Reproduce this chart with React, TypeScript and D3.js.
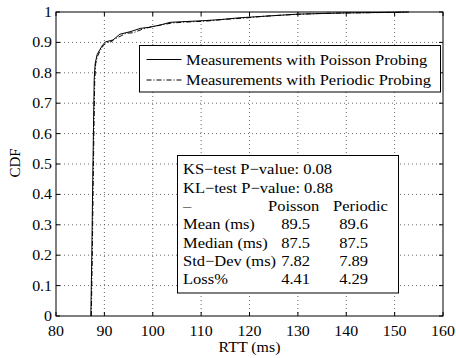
import React from "react";
import * as d3 from "d3";

const xTicks = [80, 90, 100, 110, 120, 130, 140, 150, 160];
const yTicks = [0, 0.1, 0.2, 0.3, 0.4, 0.5, 0.6, 0.7, 0.8, 0.9, 1];
const yTickLabels = ["0", "0.1", "0.2", "0.3", "0.4", "0.5", "0.6", "0.7", "0.8", "0.9", "1"];

const rttPoisson = [87.2, 87.4, 87.6, 87.75, 87.9, 88.1, 88.5, 89.1, 89.7, 90.3, 91.8, 93.2, 95.3, 97.4, 99.4, 101.5, 103.6, 106, 110, 114, 118, 122, 126, 130, 135, 140, 145, 150, 152.5];
const cdfPoisson = [0, 0.2, 0.45, 0.62, 0.78, 0.83, 0.86, 0.877, 0.893, 0.902, 0.908, 0.927, 0.935, 0.946, 0.95, 0.957, 0.966, 0.968, 0.971, 0.975, 0.981, 0.985, 0.989, 0.993, 0.995, 0.997, 0.998, 0.999, 1];

const rttPeriodic = [87.3, 87.5, 87.7, 87.85, 88.0, 88.2, 88.6, 89.2, 89.8, 90.6, 91.4, 92.0, 93.5, 94.5, 96, 97.8, 99.8, 102, 104, 107, 111, 115, 119, 123, 127, 131, 136, 141, 146, 151, 153];
const cdfPeriodic = [0, 0.2, 0.45, 0.62, 0.77, 0.83, 0.855, 0.875, 0.89, 0.9, 0.902, 0.91, 0.922, 0.93, 0.932, 0.943, 0.952, 0.958, 0.964, 0.967, 0.97, 0.976, 0.98, 0.986, 0.99, 0.993, 0.996, 0.997, 0.998, 0.999, 1];

const legendLabels = ["Measurements with Poisson Probing", "Measurements with Periodic Probing"];

const statHeader = ["KS\u2212test P\u2212value: 0.08", "KL\u2212test P\u2212value: 0.88"];
const statRows = ["\u2013", "Mean (ms)", "Median (ms)", "Std\u2212Dev (ms)", "Loss%"];
const statPoisson = ["Poisson", "89.5", "87.5", "7.82", "4.41"];
const statPeriodic = ["Periodic", "89.6", "87.5", "7.89", "4.29"];

const FONT = "'Liberation Serif', 'Times New Roman', serif";

function T({ x, y, sx = 1, size = 15, anchor = "start", children }: any) {
  return (
    <text transform={`translate(${x},${y}) scale(${sx},1)`} fontSize={size} textAnchor={anchor}>
      {children}
    </text>
  );
}

export default function App() {
  const left = 56, right = 443, top = 12, bottom = 316;
  const x = d3.scaleLinear().domain([80, 160]).range([left, right]);
  const y = d3.scaleLinear().domain([0, 1]).range([bottom, top]);
  const line = d3.line<[number, number]>().x(d => x(d[0])).y(d => y(d[1]));
  const pPois = line(rttPoisson.map((r, i) => [r, cdfPoisson[i]]))!;
  const pPer = line(rttPeriodic.map((r, i) => [r, cdfPeriodic[i]]))!;
  const tl = 4;
  const lineH = 18.35;
  const statTop = 174.3;
  const sxT = 1.1;
  const sxA = 1.06;

  return (
    <svg width={456} height={358} style={{ position: "absolute", left: 0, top: 0, background: "#fff" }} fontFamily={FONT}>
      <rect x={0} y={0} width={456} height={358} fill="#fff" />
      {/* grid */}
      {xTicks.slice(1, -1).map(t => (
        <line key={"gx" + t} x1={x(t)} x2={x(t)} y1={top} y2={bottom} stroke="#444" strokeWidth={0.8} strokeDasharray="1,3" />
      ))}
      {yTicks.slice(1, -1).map(t => (
        <line key={"gy" + t} x1={left} x2={right} y1={y(t)} y2={y(t)} stroke="#444" strokeWidth={0.8} strokeDasharray="1,3" />
      ))}
      {/* ticks */}
      {xTicks.map(t => (
        <g key={"tx" + t}>
          <line x1={x(t)} x2={x(t)} y1={bottom} y2={bottom - tl} stroke="#000" />
          <line x1={x(t)} x2={x(t)} y1={top} y2={top + tl} stroke="#000" />
          <T x={x(t)} y={335.5} sx={sxA} anchor="middle">{t}</T>
        </g>
      ))}
      {yTicks.map((t, i) => (
        <g key={"ty" + t}>
          <line x1={left} x2={left + tl} y1={y(t)} y2={y(t)} stroke="#000" />
          <line x1={right} x2={right - tl} y1={y(t)} y2={y(t)} stroke="#000" />
          <T x={52} y={y(t) + 5} sx={sxA} anchor="end">{yTickLabels[i]}</T>
        </g>
      ))}
      {/* curves */}
      <path d={pPois} fill="none" stroke="#000" strokeWidth={1} />
      <path d={pPer} fill="none" stroke="#000" strokeWidth={1} strokeDasharray="5,2,1,2" />
      {/* axes box */}
      <rect x={left} y={top} width={right - left} height={bottom - top} fill="none" stroke="#000" strokeWidth={1} />
      {/* legend */}
      <rect x={139.5} y={45.5} width={301} height={46.5} fill="#fff" stroke="#000" strokeWidth={1} />
      <line x1={146.5} x2={181.5} y1={59.5} y2={59.5} stroke="#000" strokeWidth={1} />
      <line x1={146.5} x2={181.5} y1={80} y2={80} stroke="#000" strokeWidth={1} strokeDasharray="5,2,1,2" />
      <T x={186} y={64.5} sx={sxT}>{legendLabels[0]}</T>
      <T x={186} y={85} sx={sxT}>{legendLabels[1]}</T>
      {/* stats box */}
      <rect x={177.5} y={155.5} width={221} height={137.5} fill="#fff" stroke="#000" strokeWidth={1} />
      {statHeader.map((s, i) => (
        <T key={"h" + i} x={183} y={statTop + i * lineH} sx={sxT}>{s}</T>
      ))}
      {statRows.map((s, i) => (
        <g key={"r" + i}>
          <T x={183} y={statTop + (i + 2) * lineH} sx={sxT}>{s}</T>
          <T x={i === 0 ? 268 : 310} y={statTop + (i + 2) * lineH} sx={sxT} anchor={i === 0 ? "start" : "end"}>{statPoisson[i]}</T>
          <T x={i === 0 ? 333 : 368} y={statTop + (i + 2) * lineH} sx={sxT} anchor={i === 0 ? "start" : "end"}>{statPeriodic[i]}</T>
        </g>
      ))}
      {/* axis labels */}
      <T x={249.5} y={352} sx={sxA} anchor="middle">RTT (ms)</T>
      <text transform="translate(20,163) rotate(-90)" fontSize={15} textAnchor="middle">CDF</text>
    </svg>
  );
}
